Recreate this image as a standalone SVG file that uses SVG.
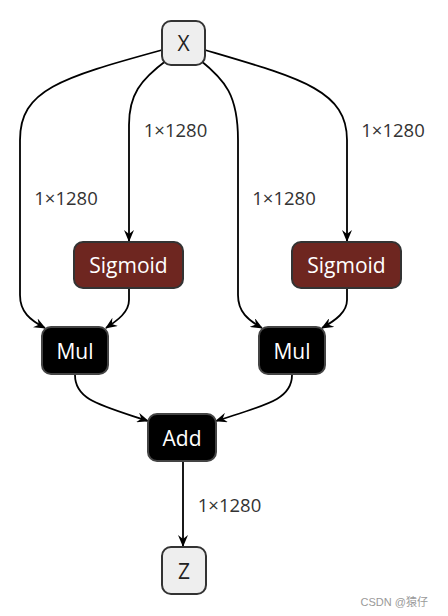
<svg xmlns="http://www.w3.org/2000/svg" width="448" height="616" viewBox="0 0 448 616">
<style>
.lt{fill:#eeeeee;stroke:#333333;stroke-width:2}
.sg{fill:#6e2620;stroke:#333333;stroke-width:2}
.bk{fill:#000000;stroke:#444444;stroke-width:2}
.t{font-family:"Open Sans","Noto Sans",sans-serif;font-size:21px;text-anchor:middle;dominant-baseline:central}
.tw{fill:#ffffff}
.td{fill:#222222}
.lb{font-family:"Open Sans","Noto Sans",sans-serif;font-size:18.5px;fill:#333333;text-anchor:middle;dominant-baseline:central}
.e{fill:none;stroke:#000000;stroke-width:1.8;marker-end:url(#ah)}
</style>
<defs>
<marker id="ah" viewBox="0 0 12 10" refX="11" refY="5" markerWidth="12" markerHeight="10" markerUnits="userSpaceOnUse" orient="auto">
<path d="M0,0 L12,5 L0,10 L4,5 z" fill="#000000"/>
</marker>
</defs>
<g id="connectors">
<path class="e" d="M162,50 C60,78 20,90 20,140 L20,295 C20,312 30,320 45,328"/>
<path class="e" d="M167,60 C140,80 129,95 129,125 L129,241"/>
<path class="e" d="M200,60 C225,80 238,95 238,140 L238,295 C238,312 248,320 262,328"/>
<path class="e" d="M205,50 C300,78 347,90 347,140 L347,241"/>
<path class="e" d="M129,289 L129,300 C129,312 118,320 106,328"/>
<path class="e" d="M347,289 L347,300 C347,312 336,320 322,328"/>
<path class="e" d="M75,375 C75,400 100,405 148,421"/>
<path class="e" d="M292,375 C292,400 265,405 216,421"/>
<path class="e" d="M183,462 L183,546"/>
</g>
<g id="labels">
<text class="lb" x="66" y="197">1×1280</text>
<text class="lb" x="175.5" y="129">1×1280</text>
<text class="lb" x="284" y="197">1×1280</text>
<text class="lb" x="393" y="129">1×1280</text>
<text class="lb" x="229.5" y="504">1×1280</text>
</g>
<g id="node-X">
<rect class="lt" x="162" y="21" width="43" height="44" rx="9"/>
<text class="t td" x="183.5" y="43">X</text>
</g>
<g id="node-Sigmoid1">
<rect class="sg" x="74" y="242" width="109" height="46" rx="9"/>
<text class="t tw" x="128.5" y="265">Sigmoid</text>
</g>
<g id="node-Sigmoid2">
<rect class="sg" x="292" y="242" width="109" height="46" rx="9"/>
<text class="t tw" x="346.5" y="265">Sigmoid</text>
</g>
<g id="node-Mul1">
<rect class="bk" x="42" y="327" width="66" height="47" rx="9"/>
<text class="t tw" x="75" y="350.5">Mul</text>
</g>
<g id="node-Mul2">
<rect class="bk" x="259" y="327" width="66" height="47" rx="9"/>
<text class="t tw" x="292" y="350.5">Mul</text>
</g>
<g id="node-Add">
<rect class="bk" x="148" y="414" width="68" height="47" rx="9"/>
<text class="t tw" x="182" y="437.5">Add</text>
</g>
<g id="node-Z">
<rect class="lt" x="162" y="547" width="44" height="47" rx="9"/>
<text class="t td" x="184" y="570.5">Z</text>
</g>
<text x="428" y="602" font-family="'Liberation Sans','Noto Sans CJK SC',sans-serif" font-size="11" fill="#999999" text-anchor="end" dominant-baseline="central">CSDN @猿仔</text>
</svg>
